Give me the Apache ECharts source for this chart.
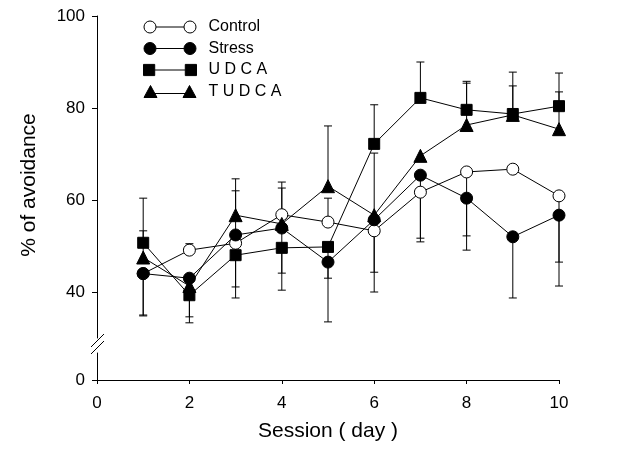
<!DOCTYPE html>
<html><head><meta charset="utf-8">
<script src="https://cdn.jsdelivr.net/npm/echarts@6/dist/echarts.min.js"></script>
<style>html,body{margin:0;padding:0;background:#fff}#c{width:629px;height:450px}</style>
</head><body><div id="c"></div>
<script>
// ---- data ----
const sessions = [1, 2, 3, 4, 5, 6, 7, 8, 9, 10];
const seriesNames = ['Control', 'Stress', 'U D C A', 'T U D C A'];
const control = [44.0, 49.1, 50.6, 56.8, 55.2, 53.3, 61.7, 66.1, 66.7, 60.9];
const stress  = [44.0, 43.0, 52.4, 53.9, 46.5, 55.7, 65.4, 60.4, 52.0, 56.7];
const udca    = [50.7, 39.3, 48.0, 49.6, 49.8, 72.2, 82.2, 79.6, 78.7, 80.4];
const tudca   = [47.5, 41.3, 56.7, 54.8, 63.0, 56.7, 69.6, 76.3, 78.5, 75.4];
// one-sided error bars: value at the capped end (null = not drawn)
const controlErr = [35.0, 50.5, 41.1, 63.9, 60.4, 40.0, 51.7, 52.2, null, 46.5];
const stressErr  = [34.8, 34.6, 62.0, 44.1, 33.5, 44.3, 50.9, 49.1, 38.7, 41.3];
const udcaErr    = [60.4, 33.3, 38.7, 40.4, 43.0, 80.7, 90.0, 85.8, 87.8, 87.6];
const tudcaErr   = [53.3, null, 64.6, 62.6, 76.1, 70.2, null, 85.4, 84.8, 83.5];
const yTicksUpper = [40, 60, 80, 100];
const yTicksLower = [0];

const FONT = 'Liberation Sans, Arial, Helvetica, sans-serif';
const chart = echarts.init(document.getElementById('c'), null, {renderer: 'canvas'});

function pts(vals) { return sessions.map((s, i) => [s, vals[i]]); }
function errPts(vals, errs) {
  return sessions.map((s, i) => [s, vals[i], errs[i]]).filter(d => d[2] != null);
}
function errRender(params, api) {
  const x = api.value(0), v = api.value(1), e = api.value(2);
  const p0 = api.coord([x, v]);
  const p1 = api.coord([x, e]);
  const hw = 4;
  return {
    type: 'group',
    children: [
      {type: 'line', shape: {x1: p0[0], y1: p0[1], x2: p1[0], y2: p1[1]}, style: {stroke: '#000', lineWidth: 1}},
      {type: 'line', shape: {x1: p1[0] - hw, y1: p1[1], x2: p1[0] + hw, y2: p1[1]}, style: {stroke: '#000', lineWidth: 1}}
    ]
  };
}
function errSeries(vals, errs) {
  return {
    type: 'custom', xAxisIndex: 0, yAxisIndex: 0, z: 1, silent: true,
    renderItem: errRender, encode: {x: 0, y: [1, 2]},
    data: errPts(vals, errs)
  };
}
function lineSeries(name, vals, symbol, size, fill) {
  return {
    name: name, type: 'line', xAxisIndex: 0, yAxisIndex: 0, z: 3,
    data: pts(vals), symbol: symbol, symbolSize: size, showSymbol: true,
    itemStyle: {color: fill, borderColor: '#000', borderWidth: 1},
    lineStyle: {color: '#000', width: 1},
    emphasis: {disabled: true}
  };
}

const iconCircle = 'path://M0,6A6,6,0,1,1,12,6A6,6,0,1,1,0,6ZM12,6L40,6M40,6A6,6,0,1,1,52,6A6,6,0,1,1,40,6Z';
const iconRect = 'path://M0,0.5L11,0.5L11,11.5L0,11.5ZM11,6L41,6M41,0.5L52,0.5L52,11.5L41,11.5Z';
const iconTri = 'path://M0,12L6.5,0L13,12ZM10,8L42,8M39,12L45.5,0L52,12Z';

const axisColor = '#000';
const option = {
  animation: false,
  backgroundColor: '#fff',
  textStyle: {fontFamily: FONT, color: '#000'},
  grid: [
    {left: 97, right: 70, top: 16, bottom: 450 - 338},
    {left: 97, right: 70, top: 353, bottom: 70}
  ],
  legend: {
    orient: 'vertical', left: 138, top: 14,
    itemWidth: 53, itemHeight: 12, itemGap: 5.5,
    selectedMode: false,
    textStyle: {fontFamily: FONT, fontSize: 16, color: '#000', padding: [0, 0, 0, 7]},
    data: [
      {name: seriesNames[0], icon: iconCircle, itemStyle: {color: '#fff', borderColor: '#000', borderWidth: 1}},
      {name: seriesNames[1], icon: iconCircle, itemStyle: {color: '#000', borderColor: '#000', borderWidth: 1}},
      {name: seriesNames[2], icon: iconRect, itemStyle: {color: '#000', borderColor: '#000', borderWidth: 1}},
      {name: seriesNames[3], icon: iconTri, itemStyle: {color: '#000', borderColor: '#000', borderWidth: 1}}
    ]
  },
  xAxis: [
    {gridIndex: 0, type: 'value', min: 0, max: 10, interval: 2, show: false},
    {
      gridIndex: 1, type: 'value', min: 0, max: 10, interval: 2,
      axisLine: {show: true, lineStyle: {color: axisColor, width: 1}},
      axisTick: {show: true, length: 4, lineStyle: {color: axisColor}},
      axisLabel: {color: '#000', fontSize: 17, margin: 15, fontFamily: FONT},
      splitLine: {show: false},
      name: 'Session ( day )', nameLocation: 'middle', nameGap: 41,
      nameTextStyle: {fontSize: 21, color: '#000', fontFamily: FONT}
    }
  ],
  yAxis: [
    {
      gridIndex: 0, type: 'value', min: 30, max: 100,
      axisLine: {show: true, lineStyle: {color: axisColor, width: 1}},
      axisTick: {show: true, length: 5, customValues: yTicksUpper, lineStyle: {color: axisColor}},
      axisLabel: {color: '#000', fontSize: 17, margin: 12, customValues: yTicksUpper, fontFamily: FONT},
      splitLine: {show: false},
      name: '% of avoidance', nameLocation: 'middle', nameGap: 57, nameRotate: 90,
      nameTextStyle: {fontSize: 21, color: '#000', fontFamily: FONT, padding: [0, 16, 0, 0]}
    },
    {
      gridIndex: 1, type: 'value', min: 0, max: 6,
      axisLine: {show: true, lineStyle: {color: axisColor, width: 1}},
      axisTick: {show: true, length: 5, customValues: yTicksLower, lineStyle: {color: axisColor}},
      axisLabel: {color: '#000', fontSize: 17, margin: 12, customValues: yTicksLower, fontFamily: FONT},
      splitLine: {show: false}
    }
  ],
  graphic: [
    {type: 'line', shape: {x1: 91, y1: 347, x2: 104, y2: 334}, style: {stroke: '#000', lineWidth: 1}},
    {type: 'line', shape: {x1: 91, y1: 354, x2: 104, y2: 341}, style: {stroke: '#000', lineWidth: 1}}
  ],
  series: [
    errSeries(control, controlErr),
    errSeries(stress, stressErr),
    errSeries(udca, udcaErr),
    errSeries(tudca, tudcaErr),
    lineSeries(seriesNames[0], control, 'circle', 12, '#fff'),
    lineSeries(seriesNames[1], stress, 'circle', 12, '#000'),
    lineSeries(seriesNames[2], udca, 'rect', 11, '#000'),
    lineSeries(seriesNames[3], tudca, 'triangle', 13, '#000')
  ]
};
chart.setOption(option);
</script>
</body></html>
